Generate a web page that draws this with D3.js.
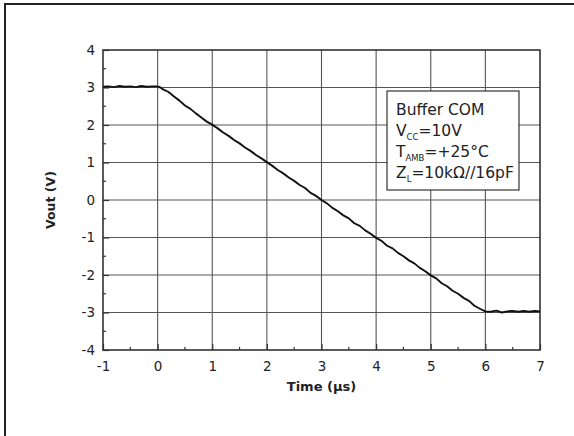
<!DOCTYPE html>
<html lang="en">
<head>
  <meta charset="UTF-8">
  <title>Buffer COM output</title>
  <script src="https://cdnjs.cloudflare.com/ajax/libs/d3/7.8.5/d3.min.js"></script>
  <style>
    body { margin: 0; background: #fff; }
    svg { display: block; font-family: "DejaVu Sans", sans-serif; }
  </style>
</head>
<body>
<svg id="chart" width="574" height="436"></svg>
<script>
// measured trace: [time (µs), Vout (V)]
const trace = [
  [-1.0, 3.02], [-0.9, 3.03], [-0.8, 3.01], [-0.7, 3.04], [-0.6, 3.02], [-0.5, 3.03],
  [-0.4, 3.01], [-0.3, 3.04], [-0.2, 3.02], [-0.1, 3.03], [0.0, 3.03],
  [0.05, 3.00], [0.1, 2.95], [0.2, 2.88], [0.3, 2.76], [0.4, 2.65], [0.5, 2.52], [0.6, 2.43],
  [0.7, 2.31], [0.8, 2.20], [0.9, 2.09], [1.0, 2.01],
  [1.1, 1.91], [1.2, 1.80], [1.3, 1.71], [1.4, 1.60], [1.5, 1.51], [1.6, 1.40],
  [1.7, 1.31], [1.8, 1.20], [1.9, 1.11], [2.0, 1.01],
  [2.1, 0.91], [2.2, 0.80], [2.3, 0.71], [2.4, 0.60], [2.5, 0.51], [2.6, 0.40],
  [2.7, 0.32], [2.8, 0.19], [2.9, 0.11], [3.0, 0.00],
  [3.1, -0.09], [3.2, -0.21], [3.3, -0.30], [3.4, -0.41], [3.5, -0.49], [3.6, -0.62],
  [3.7, -0.69], [3.8, -0.81], [3.9, -0.90], [4.0, -1.01],
  [4.1, -1.09], [4.2, -1.22], [4.3, -1.29], [4.4, -1.41], [4.5, -1.50], [4.6, -1.61],
  [4.7, -1.69], [4.8, -1.81], [4.9, -1.90], [5.0, -2.01],
  [5.1, -2.09], [5.2, -2.22], [5.3, -2.30], [5.4, -2.42], [5.5, -2.50], [5.6, -2.61],
  [5.7, -2.69], [5.8, -2.82], [5.9, -2.90], [6.0, -2.97],
  [6.1, -2.98], [6.2, -2.95], [6.3, -3.00], [6.4, -2.97], [6.5, -2.96], [6.6, -2.98],
  [6.7, -2.96], [6.8, -2.98], [6.9, -2.96], [7.0, -2.97]
];
const xTicks = [-1, 0, 1, 2, 3, 4, 5, 6, 7];
const yTicks = [-4, -3, -2, -1, 0, 1, 2, 3, 4];
const xMinor = [-0.5, 0.5, 1.5, 2.5, 3.5, 4.5, 5.5, 6.5];
const yMinor = [-3.5, -2.5, -1.5, -0.5, 0.5, 1.5, 2.5, 3.5];
const legend = [
  { main: "Buffer COM", sub: "", rest: "" },
  { main: "V", sub: "CC", rest: "=10V" },
  { main: "T", sub: "AMB", rest: "=+25°C" },
  { main: "Z", sub: "L", rest: "=10kΩ//16pF" }
];

const svg = d3.select("#chart");
const m = { left: 103, top: 50, right: 540, bottom: 350 };

// outer frame (only left and top edge fall inside the picture)
svg.append("rect")
  .attr("x", 5).attr("y", 4).attr("width", 600).attr("height", 460)
  .attr("fill", "none").attr("stroke", "#222").attr("stroke-width", 2);

const x = d3.scaleLinear().domain([-1, 7]).range([m.left, m.right]);
const y = d3.scaleLinear().domain([-4, 4]).range([m.bottom, m.top]);

// grid
const grid = svg.append("g").attr("stroke", "#555").attr("stroke-width", 1.1);
grid.selectAll(".gx").data(xTicks.slice(1, -1)).join("line")
  .attr("x1", d => x(d)).attr("x2", d => x(d))
  .attr("y1", m.top).attr("y2", m.bottom);
grid.selectAll(".gy").data(yTicks.slice(1, -1)).join("line")
  .attr("y1", d => y(d)).attr("y2", d => y(d))
  .attr("x1", m.left).attr("x2", m.right);

// axes with inward ticks, plain hyphen for negatives
const fmt = d => String(d);
const xAxis = svg.append("g").attr("transform", `translate(0,${m.bottom})`)
  .call(d3.axisBottom(x).tickValues(xTicks).tickSize(-6).tickPadding(11).tickFormat(fmt));
const yAxis = svg.append("g").attr("transform", `translate(${m.left},0)`)
  .call(d3.axisLeft(y).tickValues(yTicks).tickSize(-6).tickPadding(8).tickFormat(fmt));
[xAxis, yAxis].forEach(a => {
  a.select(".domain").remove();
  a.selectAll("line").attr("stroke", "#333").attr("stroke-width", 1.2);
  a.selectAll("text").attr("font-size", 13.5).attr("fill", "#222")
    .attr("font-family", "DejaVu Sans, sans-serif");
});

svg.append("g").selectAll("line").data(xMinor).join("line")
  .attr("x1", d => x(d)).attr("x2", d => x(d))
  .attr("y1", m.bottom).attr("y2", m.bottom - 3)
  .attr("stroke", "#333").attr("stroke-width", 1.2);
svg.append("g").selectAll("line").data(yMinor).join("line")
  .attr("y1", d => y(d)).attr("y2", d => y(d))
  .attr("x1", m.left).attr("x2", m.left + 3)
  .attr("stroke", "#333").attr("stroke-width", 1.2);

// plot frame
svg.append("rect")
  .attr("x", m.left).attr("y", m.top)
  .attr("width", m.right - m.left).attr("height", m.bottom - m.top)
  .attr("fill", "none").attr("stroke", "#333").attr("stroke-width", 1.6);

// trace
svg.append("path")
  .datum(trace)
  .attr("fill", "none").attr("stroke", "#111").attr("stroke-width", 1.9)
  .attr("stroke-linejoin", "round")
  .attr("d", d3.line().x(d => x(d[0])).y(d => y(d[1])));

// axis titles
svg.append("text")
  .attr("x", (m.left + m.right) / 2).attr("y", 391)
  .attr("text-anchor", "middle").attr("font-size", 13).attr("font-weight", "bold")
  .attr("fill", "#222").text("Time (µs)");
svg.append("text")
  .attr("transform", `translate(55,${(m.top + m.bottom) / 2}) rotate(-90)`)
  .attr("text-anchor", "middle").attr("font-size", 12.5).attr("font-weight", "bold")
  .attr("fill", "#222").text("Vout (V)");

// legend box
svg.append("rect")
  .attr("x", 387).attr("y", 91).attr("width", 132).attr("height", 99)
  .attr("fill", "#fff").attr("stroke", "#333").attr("stroke-width", 1.2);
const lg = svg.append("g").attr("font-size", 15.5).attr("fill", "#222");
lg.selectAll("text").data(legend).join("text")
  .attr("x", 396).attr("y", (d, i) => 115 + i * 21)
  .each(function(d) {
    const t = d3.select(this);
    t.append("tspan").text(d.main);
    if (d.sub) {
      t.append("tspan").attr("font-size", 8.5).attr("dy", 4).text(d.sub);
      t.append("tspan").attr("dy", -4).text(d.rest);
    }
  });
</script>
</body>
</html>
